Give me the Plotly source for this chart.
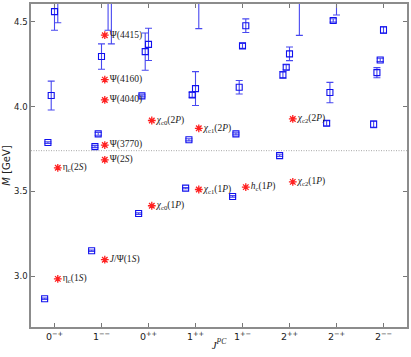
import plotly.graph_objects as go

# ---------------- data ----------------
categories = ["0-+", "1--", "0++", "1++", "1+-", "2++", "2-+", "2--"]
tick_labels = ["0<sup>−+</sup>", "1<sup>−−</sup>", "0<sup>++</sup>", "1<sup>++</sup>",
               "1<sup>+−</sup>", "2<sup>++</sup>", "2<sup>−+</sup>", "2<sup>−−</sup>"]

# lattice levels per channel (mass, error) in GeV, ordered by level index
lat_0mp = [2.867, 3.788, 4.065, 4.560, 4.650]
lat_0mp_err = [0.004, 0.005, 0.085, 0.110, 0.156]
lat_1mm = [3.150, 3.764, 3.839, 4.295, 4.720, 4.700, 4.650]
lat_1mm_err = [0.004, 0.006, 0.008, 0.075, 0.030, 0.250, 0.280]
lat_0pp = [3.369, 4.063, 4.324, 4.367]
lat_0pp_err = [0.005, 0.006, 0.110, 0.095]
lat_1pp = [3.519, 3.804, 4.069, 4.106, 4.610]
lat_1pp_err = [0.004, 0.006, 0.015, 0.100, 0.150]
lat_1pm = [3.470, 3.839, 4.114, 4.358, 4.477]
lat_1pm_err = [0.005, 0.006, 0.040, 0.015, 0.040]
lat_2pp = [3.711, 4.187, 4.232, 4.311, 4.720, 4.760, 4.680]
lat_2pp_err = [0.005, 0.020, 0.015, 0.040, 0.030, 0.030, 0.260]
lat_2mp = [3.902, 4.083, 4.508, 4.660]
lat_2mp_err = [0.015, 0.060, 0.010, 0.120]
lat_2mm = [3.896, 4.200, 4.275, 4.452]
lat_2mm_err = [0.020, 0.030, 0.010, 0.020]

lattice = [lat_0mp, lat_1mm, lat_0pp, lat_1pp, lat_1pm, lat_2pp, lat_2mp, lat_2mm]
lattice_err = [lat_0mp_err, lat_1mm_err, lat_0pp_err, lat_1pp_err,
               lat_1pm_err, lat_2pp_err, lat_2mp_err, lat_2mm_err]

# experimental states
exp_channel = [0, 0, 1, 1, 1, 1, 1, 1, 2, 3, 4, 5, 2, 3, 5]
exp_mass = [2.984, 3.639, 3.097, 3.686, 3.773, 4.039, 4.159, 4.421,
            3.415, 3.511, 3.525, 3.556, 3.918, 3.872, 3.927]
exp_label = ["η<sub>c</sub>(1<i>S</i>)", "η<sub>c</sub>(2<i>S</i>)",
             "<i>J</i>/Ψ(1<i>S</i>)", "Ψ(2<i>S</i>)", "Ψ(3770)", "Ψ(4040)",
             "Ψ(4160)", "Ψ(4415)",
             "<i>χ</i><sub>c0</sub>(1<i>P</i>)", "<i>χ</i><sub>c1</sub>(1<i>P</i>)",
             "<i>h</i><sub>c</sub>(1<i>P</i>)", "<i>χ</i><sub>c2</sub>(1<i>P</i>)",
             "<i>χ</i><sub>c0</sub>(2<i>P</i>)", "<i>χ</i><sub>c1</sub>(2<i>P</i>)",
             "<i>χ</i><sub>c2</sub>(2<i>P</i>)"]

threshold = 3.74

# ---------------- figure ----------------
lat_x, lat_y, lat_e = [], [], []
for ch, (ms, es) in enumerate(zip(lattice, lattice_err)):
    for lvl, (m, e) in enumerate(zip(ms, es)):
        lat_x.append(ch - 0.21 + 0.07 * lvl)
        lat_y.append(m)
        lat_e.append(e)

fig = go.Figure()
fig.add_trace(go.Scatter(
    x=lat_x, y=lat_y, mode="markers",
    marker=dict(symbol="square-open", size=6, color="#1010ee",
                line=dict(width=1.1, color="#1010ee")),
    error_y=dict(type="data", array=lat_e, visible=True, color="#4848f0",
                 thickness=1.1, width=3.5),
    showlegend=False, cliponaxis=True))

fig.add_trace(go.Scatter(
    x=[c + 0.07 for c in exp_channel], y=exp_mass, mode="markers+text",
    marker=dict(symbol="asterisk-open", size=6.5, color="#ff2020",
                line=dict(width=1.3, color="#ff2020")),
    text=exp_label, textposition="middle right",
    textfont=dict(family="Liberation Serif", size=9.5, color="#222"),
    showlegend=False, cliponaxis=False))

fig.add_shape(type="line", xref="paper", yref="y", x0=0, x1=1,
              y0=threshold, y1=threshold,
              line=dict(color="#a8a8a8", width=1, dash="1px,1.5px"))

axis_common = dict(showline=True, linecolor="#8c8c8c", linewidth=1.5,
                   mirror="ticks", ticks="inside", ticklen=4, tickwidth=1,
                   tickcolor="#777", showgrid=False, zeroline=False)

fig.update_xaxes(range=[-0.5, 7.5], tickvals=list(range(len(categories))),
                 ticktext=tick_labels,
                 tickfont=dict(family="DejaVu Sans", size=9.5, color="#222"),
                 title=dict(text="<i>J</i><sup><i>PC</i></sup>",
                            font=dict(family="Liberation Serif", size=11, color="#222"),
                            standoff=0),
                 **axis_common)
fig.update_yaxes(range=[2.7, 4.605], tickvals=[3.0, 3.5, 4.0, 4.5],
                 ticktext=["3.0", "3.5", "4.0", "4.5"],
                 tickfont=dict(family="DejaVu Sans", size=8.5, color="#222"),
                 title=dict(text="<i>M</i> [GeV]",
                            font=dict(family="DejaVu Sans", size=10, color="#222"),
                            standoff=2),
                 **axis_common)

fig.update_layout(width=411, height=357,
                  margin=dict(l=31, r=4, t=4, b=30, autoexpand=False),
                  paper_bgcolor="white", plot_bgcolor="white")

fig.write_html("out.html", config={"displayModeBar": False},
               post_script="document.body.style.margin='0';document.body.style.overflow='hidden';")
